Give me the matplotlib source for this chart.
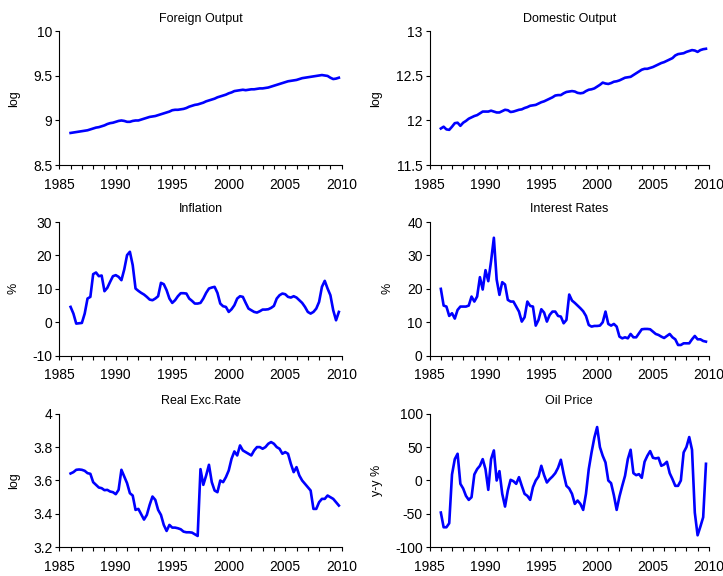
import numpy as np
import matplotlib
matplotlib.use('Agg')
import matplotlib.pyplot as plt
from matplotlib.ticker import MultipleLocator, FuncFormatter

plt.rcParams['font.family'] = ['Liberation Sans', 'DejaVu Sans']

# quarterly series, 1986Q1 - 2009Q4
start_year = 1986
foreign = [8.86, 8.865, 8.87, 8.875, 8.88, 8.885, 8.89, 8.90, 8.91, 8.92, 8.925, 8.935,
           8.945, 8.96, 8.97, 8.975, 8.985, 8.995, 9.0, 8.995, 8.985, 8.985, 8.995, 9.0,
           9.0, 9.01, 9.02, 9.03, 9.04, 9.045, 9.05, 9.06, 9.07, 9.08, 9.09, 9.1,
           9.115, 9.12, 9.12, 9.125, 9.13, 9.14, 9.155, 9.165, 9.175, 9.18, 9.19, 9.2,
           9.215, 9.225, 9.235, 9.245, 9.26, 9.27, 9.28, 9.29, 9.305, 9.315, 9.33, 9.335,
           9.34, 9.345, 9.34, 9.345, 9.35, 9.35, 9.355, 9.36, 9.36, 9.365, 9.37, 9.38,
           9.39, 9.40, 9.41, 9.42, 9.43, 9.44, 9.445, 9.45, 9.455, 9.465, 9.475, 9.48,
           9.485, 9.49, 9.495, 9.50, 9.505, 9.51, 9.505, 9.50, 9.48, 9.465, 9.47, 9.48]

domestic = [11.91, 11.93, 11.90, 11.895, 11.93, 11.97, 11.975, 11.94, 11.975, 11.995,
            12.02, 12.035, 12.05, 12.06, 12.08, 12.10, 12.10, 12.10, 12.11, 12.10,
            12.09, 12.09, 12.105, 12.12, 12.115, 12.095, 12.10, 12.11, 12.12, 12.125,
            12.14, 12.15, 12.165, 12.17, 12.175, 12.19, 12.205, 12.215, 12.23, 12.245,
            12.26, 12.28, 12.285, 12.285, 12.305, 12.32, 12.325, 12.33, 12.325, 12.31,
            12.305, 12.31, 12.33, 12.345, 12.35, 12.36, 12.38, 12.40, 12.425, 12.415,
            12.41, 12.42, 12.435, 12.44, 12.45, 12.465, 12.48, 12.485, 12.49, 12.51,
            12.53, 12.55, 12.57, 12.58, 12.58, 12.59, 12.60, 12.615, 12.63, 12.645,
            12.655, 12.67, 12.685, 12.70, 12.73, 12.745, 12.75, 12.755, 12.77, 12.78,
            12.79, 12.785, 12.77, 12.79, 12.80, 12.805]

inflation = [4.6, 2.6, -0.4, -0.3, -0.2, 2.6, 7.1, 7.6, 14.4, 14.9,
             13.8, 14.0, 9.3, 10.3, 12.1, 13.8, 14.1, 13.6, 12.6, 15.8,
             20.1, 21.1, 17.1, 10.1, 9.4, 8.8, 8.3, 7.6, 6.8, 6.6,
             7.1, 7.8, 11.8, 11.4, 9.6, 7.1, 5.8, 6.6, 7.8, 8.7,
             8.7, 8.6, 7.1, 6.4, 5.6, 5.6, 5.8, 7.1, 8.8, 10.1,
             10.4, 10.6, 8.8, 5.6, 4.8, 4.6, 3.1, 3.9, 5.1, 7.1,
             7.8, 7.6, 5.8, 4.1, 3.6, 3.1, 2.9, 3.3, 3.8, 3.8,
             3.9, 4.3, 4.9, 7.1, 8.1, 8.6, 8.4, 7.6, 7.4, 7.8,
             7.4, 6.6, 5.8, 4.6, 3.1, 2.6, 3.1, 4.1, 6.1, 10.6,
             12.4, 10.1, 8.1, 3.6, 0.6, 3.1]

interest = [20.0, 15.0, 14.7, 11.9, 12.7, 11.1, 13.7, 14.7, 14.7, 14.7,
            15.0, 17.7, 16.2, 17.7, 23.5, 19.8, 25.6, 22.3, 28.3, 35.3,
            22.8, 18.2, 22.0, 21.3, 16.7, 16.2, 16.2, 14.7, 13.2, 10.2,
            11.5, 16.2, 14.9, 14.7, 9.0, 10.7, 13.9, 12.9, 10.2, 12.2,
            13.2, 13.2, 11.9, 11.7, 9.7, 10.7, 18.3, 16.5, 15.8, 15.0,
            14.2, 13.3, 11.9, 9.2, 8.7, 8.9, 8.9, 9.0, 10.0, 13.2,
            9.5, 9.0, 9.5, 8.7, 5.7, 5.2, 5.5, 5.2, 6.5, 5.5,
            5.5, 6.7, 7.9, 8.0, 8.0, 7.9, 7.2, 6.5, 6.2, 5.7,
            5.3, 5.9, 6.5, 5.5, 4.9, 3.2, 3.2, 3.7, 3.7, 3.7,
            4.9, 5.9, 4.9, 4.9, 4.4, 4.2]

real_exc = [3.642, 3.650, 3.664, 3.666, 3.664, 3.658, 3.644, 3.640, 3.590, 3.574,
            3.558, 3.554, 3.542, 3.544, 3.534, 3.530, 3.518, 3.544, 3.664, 3.624,
            3.584, 3.524, 3.510, 3.424, 3.430, 3.398, 3.366, 3.394, 3.454, 3.504,
            3.484, 3.424, 3.394, 3.334, 3.298, 3.334, 3.318, 3.318, 3.314, 3.308,
            3.294, 3.290, 3.290, 3.288, 3.278, 3.268, 3.668, 3.574, 3.63, 3.694,
            3.59, 3.54, 3.53, 3.60, 3.59, 3.62, 3.66, 3.73, 3.774, 3.75,
            3.81, 3.78, 3.77, 3.76, 3.75, 3.78, 3.80, 3.80, 3.79, 3.80,
            3.82, 3.83, 3.82, 3.80, 3.79, 3.76, 3.77, 3.76, 3.70, 3.65,
            3.68, 3.63, 3.60, 3.58, 3.56, 3.54, 3.43, 3.43, 3.47, 3.49,
            3.49, 3.51, 3.50, 3.49, 3.47, 3.45]

oil = [-48, -70, -70, -64, 9, 32, 40, -5, -12, -23,
       -29, -25, 9, 17, 22, 32, 17, -14, 32, 45,
       0, 14, -20, -39, -15, 1, -1, -5, 5, -8,
       -20, -23, -29, -10, 0, 6, 22, 8, -3, 2,
       6, 11, 19, 31, 10, -8, -12, -20, -35, -30,
       -35, -44, -20, 17, 42, 64, 80, 50, 37, 27,
       0, -4, -22, -44, -24, -8, 7, 32, 46, 11,
       8, 9.5, 4, 28, 37, 44, 34, 33, 34, 22,
       24, 28, 11, 2, -8, -8, 0, 42, 50, 65,
       46, -48, -82, -69, -55, 25]

t = start_year + np.arange(len(foreign)) / 4.0

panels = [
    ('Foreign Output', foreign, 'log', (8.5, 10), 0.5),
    ('Domestic Output', domestic, 'log', (11.5, 13), 0.5),
    ('Inflation', inflation, '%', (-10, 30), 10),
    ('Interest Rates', interest, '%', (0, 40), 10),
    ('Real Exc.Rate', real_exc, 'log', (3.2, 4), 0.2),
    ('Oil Price', oil, 'y-y %', (-100, 100), 50),
]

# axes boxes in figure fractions
col_left = [0.082, 0.5943]
col_width = [0.3906, 0.386]
row_bottom = [0.7135, 0.3825, 0.0498]
row_height = 0.232
# right edge of each rotated y label, in axes fractions
label_x = [-0.139, -0.171, -0.142, -0.129, -0.139, -0.169]

fig = plt.figure(figsize=(7.23, 5.76), dpi=100)
fmt = FuncFormatter(lambda v, p: '%g' % round(v, 3))

for i, (title, series, ylab, ylim, ystep) in enumerate(panels):
    r, c = divmod(i, 2)
    ax = fig.add_axes([col_left[c], row_bottom[r], col_width[c], row_height])
    ax.plot(t, series, color='#0000ff', lw=1.9)
    ax.set_xlim(1985, 2010)
    ax.set_ylim(*ylim)
    ax.xaxis.set_major_locator(MultipleLocator(5))
    ax.xaxis.set_minor_locator(MultipleLocator(1))
    ax.yaxis.set_major_locator(MultipleLocator(ystep))
    ax.yaxis.set_major_formatter(fmt)
    for s in ['top', 'right']:
        ax.spines[s].set_visible(False)
    for s in ['left', 'bottom']:
        ax.spines[s].set_linewidth(0.8)
    ax.tick_params(axis='x', which='both', direction='out', length=3, width=0.8,
                   labelsize=10, pad=6)
    ax.tick_params(axis='y', direction='out', length=3, width=0.8, labelsize=10, pad=2)
    ax.set_title(title, fontsize=9, pad=7)
    ax.set_ylabel(ylab, fontsize=9)
    ax.yaxis.set_label_coords(label_x[i], 0.5)

fig.savefig('out.png', dpi=100)
